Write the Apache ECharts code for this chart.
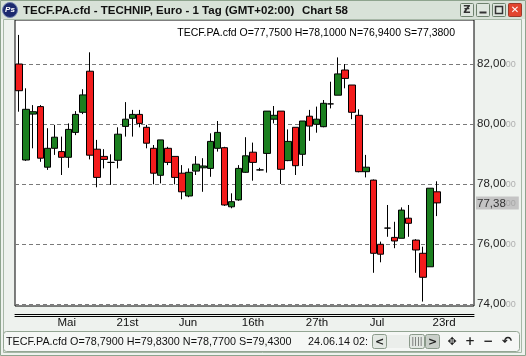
<!DOCTYPE html>
<html><head><meta charset="utf-8">
<script src="https://cdn.jsdelivr.net/npm/echarts@6/dist/echarts.min.js"></script>
<style>html,body{margin:0;padding:0;background:#eef2ee}#c{width:526px;height:356px}</style>
</head><body><div id="c"></div>
<script>
// Daily candles (index order, left to right)
const opens  = [82.01,78.81,80.34,80.59,78.57,79.20,79.09,78.90,79.73,80.40,81.77,79.17,78.93,78.73,78.80,79.93,80.20,80.33,79.90,79.20,78.30,79.20,78.93,78.37,77.61,78.44,78.55,78.53,79.20,79.22,77.25,77.48,78.40,79.07,78.48,79.03,80.17,80.44,78.79,79.90,79.00,80.27,80.00,79.92,80.68,80.97,81.81,81.31,80.30,78.42,78.14,76.00,76.54,76.23,76.20,76.87,76.14,75.70,75.25,77.75];
const closes = [81.12,80.50,80.42,78.87,79.20,79.57,78.90,79.83,80.33,80.98,78.97,78.23,78.83,78.73,79.67,80.17,80.33,80.03,79.37,78.37,79.48,78.73,78.23,77.75,78.40,78.67,78.61,79.43,79.73,77.31,77.42,78.53,78.95,78.73,78.48,80.44,80.30,78.50,79.43,78.62,80.11,79.94,80.17,80.70,80.68,81.68,81.53,80.40,78.42,78.57,75.70,75.67,76.54,76.11,77.14,76.70,75.81,74.90,77.87,77.38];
const lows   = [80.42,78.78,79.20,78.75,78.48,78.98,78.31,78.55,79.64,80.34,78.83,77.90,78.53,77.98,78.53,79.59,79.59,79.90,79.20,78.00,78.03,78.64,78.00,77.50,77.57,78.31,77.75,78.25,79.09,77.28,77.20,77.45,78.38,78.12,78.45,78.39,80.03,78.01,78.77,78.31,78.61,79.45,79.72,79.90,80.53,80.97,81.20,80.17,78.40,78.23,75.05,75.40,76.25,75.87,76.20,76.25,75.05,74.09,75.25,76.94];
const highs  = [82.98,81.20,80.64,80.64,79.87,79.98,79.59,80.03,80.44,81.17,82.40,79.48,79.17,79.00,79.90,80.74,80.48,80.48,79.98,79.31,79.48,79.25,78.93,78.64,78.53,78.94,78.87,79.70,80.11,79.25,77.70,78.64,79.57,79.39,78.55,80.44,80.61,80.44,79.83,79.90,80.11,80.48,80.59,80.81,81.42,82.23,82.01,81.31,80.50,78.98,78.16,76.09,77.31,76.75,77.23,77.31,76.17,75.92,77.87,78.10];
// Date labels on the time axis (position in candle index units)
const dateTickPos    = [6.73, 15.31, 23.85, 33.03, 42.06, 50.53, 59.99];
const dateTickLabels = ['Mai', '21st', 'Jun', '16th', '27th', 'Jul', '23rd'];
// Price axis
const priceTicks = [74, 76, 78, 80, 82];
const lastPrice = [77.38];
const headerText = 'TECF.PA.cfd O=77,7500 H=78,1000 N=76,9400 S=77,3800';
const statusText = 'TECF.PA.cfd O=78,7900 H=79,8300 N=78,7700 S=79,4300';
const statusDate = '24.06.14 02:';
const windowTitle = 'TECF.PA.cfd - TECHNIP, Euro - 1 Tag (GMT+02:00)';
const windowName = 'Chart 58';

const candleData = opens.map((o, i) => [i, o, closes[i], lows[i], highs[i]]);
const FONT = 'Liberation Sans, Arial, sans-serif';
const fmtPrice = v => v.toFixed(2).replace('.', ',');
const labelFor = v => {
  for (let k = 0; k < dateTickPos.length; k++) if (Math.abs(dateTickPos[k] - v) < 1e-6) return dateTickLabels[k];
  return '';
};

const xMin = -0.5646, xMax = 64.22, yMin = 73.943, yMax = 83.477;

const chart = echarts.init(document.getElementById('c'), null, {renderer: 'canvas'});
chart.setOption({
  animation: false,
  backgroundColor: '#eef2ee',
  title: {
    text: headerText, right: 66, top: 23,
    textStyle: {fontFamily: FONT, fontSize: 10.5, fontWeight: 'normal', color: '#000'}
  },
  grid: {left: 15, top: 20, width: 459, height: 286, show: true, borderColor: '#000', borderWidth: 1, backgroundColor: '#fff'},
  xAxis: [{
    type: 'value', min: xMin, max: xMax, position: 'bottom', offset: 8,
    axisLine: {show: true, onZero: false, lineStyle: {color: '#000', width: 1}},
    axisTick: {show: false, customValues: dateTickPos},
    splitLine: {show: false},
    axisLabel: {customValues: dateTickPos, formatter: labelFor, margin: 3, fontFamily: FONT, fontSize: 11.5, color: '#111'}
  }, {
    type: 'value', min: xMin, max: xMax, position: 'bottom', offset: 10,
    axisLine: {show: true, onZero: false, lineStyle: {color: '#000', width: 1}},
    axisTick: {show: false}, splitLine: {show: false}, axisLabel: {show: false}
  }],
  yAxis: [{
    type: 'value', min: yMin, max: yMax, position: 'right',
    axisLine: {show: false},
    axisTick: {show: false, customValues: priceTicks},
    splitLine: {show: true, lineStyle: {color: '#7a7a7a', type: [4, 3], width: 1}},
    axisLabel: {
      customValues: priceTicks, margin: 3,
      formatter: v => '{a|' + fmtPrice(v) + '}{b|00}',
      rich: {a: {fontFamily: FONT, fontSize: 11.5, color: '#222'}, b: {fontFamily: FONT, fontSize: 9, color: '#b0b0b0'}}
    }
  }, {
    type: 'value', min: yMin, max: yMax, position: 'right',
    axisLine: {show: false},
    axisTick: {show: false, customValues: lastPrice},
    splitLine: {show: false},
    axisLabel: {
      customValues: lastPrice, margin: 2,
      backgroundColor: '#c4c4c4', padding: [1, 3, 0, 1],
      formatter: v => '{a|' + fmtPrice(v) + '}{b|00}',
      rich: {a: {fontFamily: FONT, fontSize: 11.5, color: '#333'}, b: {fontFamily: FONT, fontSize: 9, color: '#a8a8a8'}}
    }
  }],
  series: [{
    type: 'candlestick', xAxisIndex: 0, yAxisIndex: 0,
    data: candleData, barWidth: 7,
    itemStyle: {color: '#1b7f1f', color0: '#f31c1c', borderColor: '#000', borderColor0: '#000', borderWidth: 1}
  }],
  graphic: [
    // window border
    {type: 'rect', shape: {x: 0.5, y: 0.5, width: 525, height: 355}, style: {fill: 'none', stroke: '#8ea48e'}},
    {type: 'rect', shape: {x: 3.5, y: 19.5, width: 518, height: 333}, style: {fill: 'none', stroke: '#a7b8a7'}},
    // title bar
    {type: 'rect', shape: {x: 1, y: 1, width: 524, height: 18}, style: {fill: '#d8e2d8'}},
    {type: 'circle', shape: {cx: 10, cy: 10, r: 7.5}, style: {fill: '#1c2a6e', stroke: '#6f7fb0'}},
    {type: 'text', x: 10, y: 10, style: {text: 'Ps', fill: '#fff', font: 'italic bold 8px ' + FONT, align: 'center', verticalAlign: 'middle'}},
    {type: 'text', x: 23, y: 11, style: {text: windowTitle, fill: '#111', font: 'bold 11.5px ' + FONT, verticalAlign: 'middle'}},
    {type: 'text', x: 302, y: 11, style: {text: windowName, fill: '#111', font: 'bold 11.5px ' + FONT, verticalAlign: 'middle'}},
    // title bar buttons
    {type: 'rect', shape: {x: 460.5, y: 3.5, width: 13, height: 13, r: 1}, style: {fill: '#dfe7df', stroke: '#6e826e'}},
    {type: 'text', x: 467, y: 10.5, style: {text: 'Ƶ', fill: '#333', font: 'bold 10px DejaVu Sans', align: 'center', verticalAlign: 'middle'}},
    {type: 'rect', shape: {x: 476.5, y: 3.5, width: 13, height: 13, r: 1}, style: {fill: '#dfe7df', stroke: '#6e826e'}},
    {type: 'rect', shape: {x: 479.5, y: 11.5, width: 7, height: 2}, style: {fill: '#333'}},
    {type: 'rect', shape: {x: 492.5, y: 3.5, width: 13, height: 13, r: 1}, style: {fill: '#dfe7df', stroke: '#6e826e'}},
    {type: 'rect', shape: {x: 495.5, y: 6.5, width: 7, height: 7}, style: {fill: 'none', stroke: '#333', lineWidth: 1.5}},
    {type: 'rect', shape: {x: 508.5, y: 3.5, width: 13, height: 13, r: 1}, style: {fill: '#e2452f', stroke: '#9a3a2a'}},
    {type: 'text', x: 515, y: 10, style: {text: '✕', fill: '#fff', font: 'bold 10px DejaVu Sans', align: 'center', verticalAlign: 'middle'}},
    // status bar
    {type: 'rect', shape: {x: 3.5, y: 331.5, width: 516, height: 20, r: 3}, style: {fill: '#f5f7f5', stroke: '#93a593'}},
    {type: 'text', x: 6, y: 342, style: {text: statusText, fill: '#111', font: '10.8px ' + FONT, verticalAlign: 'middle'}},
    {type: 'text', x: 308, y: 342, style: {text: statusDate, fill: '#111', font: '10.8px ' + FONT, verticalAlign: 'middle'}},
    {type: 'rect', shape: {x: 372.5, y: 334.5, width: 14, height: 14, r: 2}, style: {fill: '#e3e8e3', stroke: '#8b9a8b'}},
    {type: 'text', x: 379.5, y: 342, style: {text: '<', fill: '#222', font: 'bold 11px DejaVu Sans', align: 'center', verticalAlign: 'middle'}},
    {type: 'rect', shape: {x: 387, y: 335, width: 23, height: 13}, style: {fill: '#ebeeeb'}},
    {type: 'rect', shape: {x: 409.5, y: 334.5, width: 15, height: 14, r: 2}, style: {fill: '#e3e8e3', stroke: '#8b9a8b'}},
    {type: 'text', x: 417, y: 342, style: {text: '||||', fill: '#555', font: '8px DejaVu Sans', align: 'center', verticalAlign: 'middle'}},
    {type: 'rect', shape: {x: 425.5, y: 334.5, width: 14, height: 14, r: 2}, style: {fill: '#c9cfc9', stroke: '#8b9a8b'}},
    {type: 'text', x: 432.5, y: 342, style: {text: '>', fill: '#222', font: 'bold 11px DejaVu Sans', align: 'center', verticalAlign: 'middle'}},
    {type: 'text', x: 452, y: 342, style: {text: '✥', fill: '#222', font: '11px DejaVu Sans', align: 'center', verticalAlign: 'middle'}},
    {type: 'text', x: 470, y: 342, style: {text: '+', fill: '#222', font: 'bold 12px DejaVu Sans', align: 'center', verticalAlign: 'middle'}},
    {type: 'text', x: 488, y: 342, style: {text: '−', fill: '#222', font: 'bold 12px DejaVu Sans', align: 'center', verticalAlign: 'middle'}},
    {type: 'text', x: 507, y: 342, style: {text: '↶', fill: '#222', font: 'bold 12px DejaVu Sans', align: 'center', verticalAlign: 'middle'}}
  ]
});
</script>
</body></html>
